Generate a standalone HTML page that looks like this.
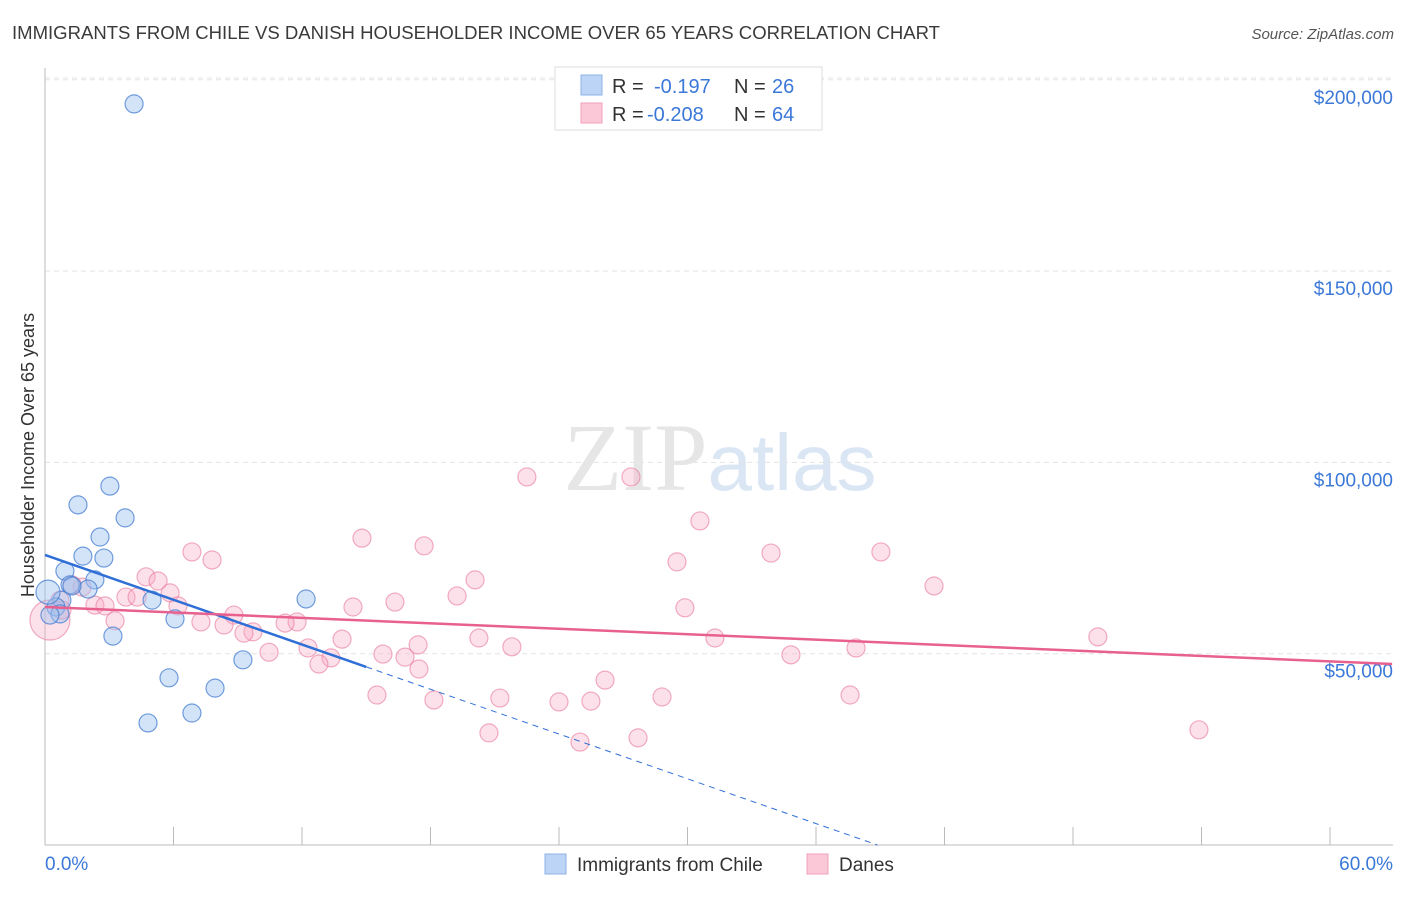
<!DOCTYPE html>
<html><head><meta charset="utf-8"><style>
body{margin:0;background:#fff;font-family:"Liberation Sans",sans-serif}
</style></head><body>
<svg id="chart" width="1406" height="892" xmlns="http://www.w3.org/2000/svg" font-family="Liberation Sans, sans-serif">
<text x="12" y="39" font-size="18" fill="#3a3a3a" textLength="928" lengthAdjust="spacingAndGlyphs">IMMIGRANTS FROM CHILE VS DANISH HOUSEHOLDER INCOME OVER 65 YEARS CORRELATION CHART</text>
<text x="1394" y="39" font-size="15" fill="#555" text-anchor="end" font-style="italic">Source: ZipAtlas.com</text>
<text x="720" y="490" font-size="96" text-anchor="middle" fill="#e6e6e6" font-family="Liberation Serif, serif">ZIP<tspan fill="#dbe6f5" font-family="Liberation Sans, sans-serif" font-size="80">atlas</tspan></text>
<g id="grid"></g>
<g id="axes"></g>
<g id="marks"></g>
<text transform="translate(34,455) rotate(-90)" font-size="18" fill="#333" text-anchor="middle">Householder Income Over 65 years</text>
<g>
<rect x="555" y="67" width="267" height="63" fill="#fff" stroke="#ddd"/>
<rect x="581" y="75" width="21" height="20" fill="#bcd4f5" stroke="#8fb2e6"/>
<rect x="581" y="103" width="21" height="20" fill="#fbc8d7" stroke="#f0a0b8"/>
<text x="612" y="93" font-size="20" fill="#333">R =</text>
<text x="654" y="93" font-size="20" fill="#3b78d8">-0.197</text>
<text x="734" y="93" font-size="20" fill="#333">N =</text>
<text x="772" y="93" font-size="20" fill="#3b78d8">26</text>
<text x="612" y="121" font-size="20" fill="#333">R =</text>
<text x="647" y="121" font-size="20" fill="#3b78d8">-0.208</text>
<text x="734" y="121" font-size="20" fill="#333">N =</text>
<text x="772" y="121" font-size="20" fill="#3b78d8">64</text>
</g>
<g>
<rect x="545" y="854" width="21" height="20" fill="#bcd4f5" stroke="#8fb2e6"/>
<text x="577" y="871" font-size="19" fill="#333">Immigrants from Chile</text>
<rect x="807" y="854" width="21" height="20" fill="#fbc8d7" stroke="#f0a0b8"/>
<text x="839" y="871" font-size="19" fill="#333">Danes</text>
</g>
</svg>
<script>
const yTicks=[50000,100000,150000,200000];
const yTickLabels=["$50,000","$100,000","$150,000","$200,000"];
const xTicks=[0,6,12,18,24,30,36,42,48,54,60];
const chileX=[4.16,1.54,3.03,3.74,2.57,1.77,2.75,0.93,2.33,2.01,1.17,0.79,0.51,0.70,3.17,5.0,6.07,12.19,9.24,7.94,5.79,6.86,4.81,0.14,1.26,0.23];
const chileY=[193700,88900,93800,85500,80500,75500,75000,71600,69300,66900,68000,64000,62200,60400,54600,64000,59100,64300,48400,41000,43700,34500,31900,66100,67700,60100];
const daneX=[22.5,27.36,30.58,14.8,17.7,6.86,7.8,33.9,39.03,29.51,20.08,4.72,5.28,41.51,19.24,3.78,4.3,5.84,16.34,2.33,6.21,29.88,14.38,1.73,1.26,3.27,7.28,8.82,8.36,9.71,11.77,11.21,13.87,17.42,20.26,21.8,12.28,9.29,10.46,15.78,16.81,13.35,12.79,17.46,31.28,34.83,37.87,49.16,26.15,15.5,18.16,21.24,24.0,25.49,28.81,37.59,20.73,24.98,27.69,53.88,0.70,0.23,0.79,2.80];
const daneY=[96200,96200,84700,80200,78200,76600,74500,76300,76600,74000,69300,70100,69000,67700,65100,64800,64800,65900,63500,62700,62500,62000,62200,67400,68000,58600,58300,60100,57500,55700,58300,58000,53800,52300,54100,51800,51500,55400,50400,49900,49100,48900,47300,46000,54100,49700,51500,54400,43100,39200,37900,38400,37400,37600,38700,39200,29300,26900,28000,30100,64000,58800,61400,62500];
const chileTrend=[75800,-1950];
const daneTrend=[62200,-237];
const sx=v=>45+v*1285/60;
const sy=v=>845-v*191.3/50000;
const NS="http://www.w3.org/2000/svg";
function mk(parent,tag,attrs){const e=document.createElementNS(NS,tag);for(const k in attrs)e.setAttribute(k,attrs[k]);document.getElementById(parent).appendChild(e);return e;}
mk('grid','line',{x1:45,x2:1393,y1:78,y2:78,stroke:'#e4e4e4','stroke-dasharray':'5,4'});
yTicks.forEach((t,i)=>{
 const l=mk('grid','line',{x1:45,x2:1393,y1:sy(t),y2:sy(t),stroke:'#e4e4e4','stroke-dasharray':'5,4'});
 
 
 const tx=mk('axes','text',{x:1393,y:sy(t)+24,'font-size':19,fill:'#3b78d8','text-anchor':'end'});
 tx.textContent=yTickLabels[i];
 
 
});
mk('axes','line',{x1:45,x2:45,y1:68,y2:845,stroke:'#bbb'});
mk('axes','line',{x1:45,x2:1393,y1:845,y2:845,stroke:'#bbb'});
xTicks.forEach(t=>{const l=mk('axes','line',{x1:sx(t),x2:sx(t),y1:827,y2:845,stroke:'#bbb'});
 
 });
let a=mk('axes','text',{x:45,y:870,'font-size':19,fill:'#3b78d8'});a.textContent='0.0%';


a=mk('axes','text',{x:1393,y:870,'font-size':19,fill:'#3b78d8','text-anchor':'end'});a.textContent='60.0%';


daneX.forEach((x,i)=>{const c=mk('marks','circle',{cx:sx(x),cy:sy(daneY[i]),r:(i==61?20:9),fill:'rgba(248,170,195,0.35)',stroke:'rgba(232,120,155,0.6)','stroke-width':1.2});
 
 });
chileX.forEach((x,i)=>{const c=mk('marks','circle',{cx:sx(x),cy:sy(chileY[i]),r:(i==23?12:9),fill:'rgba(160,195,240,0.45)',stroke:'rgba(70,125,210,0.75)','stroke-width':1.2});
 
 });
const cl=v=>chileTrend[0]+chileTrend[1]*v, dl=v=>daneTrend[0]+daneTrend[1]*v;
let t=mk('marks','line',{x1:sx(0),y1:sy(cl(0)),x2:sx(15),y2:sy(cl(15)),stroke:'#2f6fd6','stroke-width':2.5});


const z=-chileTrend[0]/chileTrend[1];
t=mk('marks','line',{x1:sx(15),y1:sy(cl(15)),x2:sx(z),y2:sy(0),stroke:'#2f6fd6','stroke-width':1,'stroke-dasharray':'6,5'});


t=mk('marks','line',{x1:sx(0),y1:sy(dl(0)),x2:sx(62.9),y2:sy(dl(62.9)),stroke:'#e8608e','stroke-width':2.5});


</script>
</body></html>
